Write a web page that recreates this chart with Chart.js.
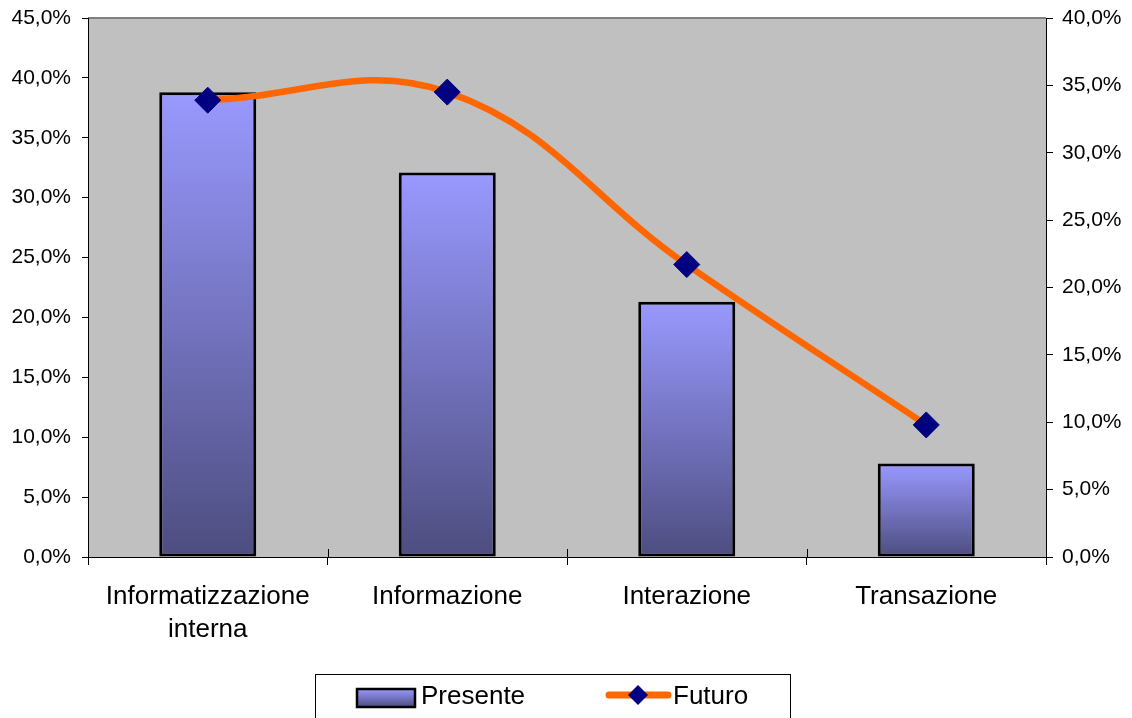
<!DOCTYPE html>
<html>
<head>
<meta charset="utf-8">
<script src="https://cdn.jsdelivr.net/npm/chart.js@4.4.0/dist/chart.umd.min.js"></script>
<style>
  html, body { margin: 0; padding: 0; background: #fff; }
  canvas { display: block; }
</style>
</head>
<body>
<canvas id="comboChart" width="1132" height="718"></canvas>
<script>
const categories = [['Informatizzazione', 'interna'], 'Informazione', 'Interazione', 'Transazione'];
const presente = [38.8, 32.1, 21.3, 7.8];
const futuro = [33.9, 34.5, 21.7, 9.8];

const FONT = "'Liberation Sans', Arial, sans-serif";
const BAR_TOP = '#9999ff';
const BAR_BOTTOM = '#4d4d80';
const LINE_COLOR = '#ff6600';
const MARKER_COLOR = '#000080';

const pct = v => v.toFixed(1).replace('.', ',') + '%';

function barGradient(c) {
  const y = c.chart.scales.y;
  if (!y || c.dataIndex === undefined) return BAR_TOP;
  const top = y.getPixelForValue(presente[c.dataIndex]);
  const bottom = y.getPixelForValue(0);
  if (!isFinite(top) || !isFinite(bottom) || top === bottom) return BAR_TOP;
  const g = c.chart.ctx.createLinearGradient(0, top, 0, bottom);
  g.addColorStop(0, BAR_TOP);
  g.addColorStop(1, BAR_BOTTOM);
  return g;
}

// fixed axis sizes so the plot area lands where the original one is
function fitY(width) {
  return s => {
    s.width = width;
    s.paddingTop = 0;
    s.paddingBottom = 0;
  };
}

// grey plot area with its top border, plus the inner half of the category ticks
const plotArea = {
  id: 'plotArea',
  beforeDraw(chart) {
    const { ctx, chartArea: a } = chart;
    ctx.save();
    ctx.fillStyle = '#c0c0c0';
    ctx.fillRect(a.left, a.top, a.right - a.left, a.bottom - a.top);
    ctx.strokeStyle = '#808080';
    ctx.lineWidth = 2;
    ctx.beginPath();
    ctx.moveTo(a.left, a.top);
    ctx.lineTo(a.right, a.top);
    ctx.stroke();
    ctx.restore();
  },
  afterDraw(chart) {
    const { ctx, chartArea: a } = chart;
    const x = chart.scales.x;
    ctx.save();
    ctx.strokeStyle = '#000';
    ctx.lineWidth = 1;
    for (let i = 1; i < categories.length; i++) {
      const px = Math.round((x.getPixelForTick(i - 1) + x.getPixelForTick(i)) / 2) + 0.5;
      ctx.beginPath();
      ctx.moveTo(px, a.bottom - 8);
      ctx.lineTo(px, a.bottom);
      ctx.stroke();
    }
    ctx.restore();
  }
};

// boxed legend at the bottom, like the spreadsheet one
const boxLegend = {
  id: 'boxLegend',
  afterDraw(chart) {
    const ctx = chart.ctx;
    ctx.save();
    ctx.strokeStyle = '#000';
    ctx.lineWidth = 1;
    ctx.strokeRect(315.5, 674.5, 475, 60);

    const g = ctx.createLinearGradient(0, 689, 0, 707);
    g.addColorStop(0, BAR_TOP);
    g.addColorStop(1, BAR_BOTTOM);
    ctx.fillStyle = g;
    ctx.fillRect(357, 689, 58, 18);
    ctx.lineWidth = 2.5;
    ctx.strokeRect(357, 689, 58, 18);

    ctx.strokeStyle = LINE_COLOR;
    ctx.lineWidth = 7;
    ctx.lineCap = 'round';
    ctx.beginPath();
    ctx.moveTo(609, 695);
    ctx.lineTo(668, 695);
    ctx.stroke();
    ctx.fillStyle = MARKER_COLOR;
    ctx.beginPath();
    ctx.moveTo(638, 685);
    ctx.lineTo(648, 695);
    ctx.lineTo(638, 705);
    ctx.lineTo(628, 695);
    ctx.closePath();
    ctx.fill();

    ctx.fillStyle = '#000';
    ctx.font = '26px ' + FONT;
    ctx.textBaseline = 'middle';
    ctx.fillText('Presente', 421, 697);
    ctx.fillText('Futuro', 673, 697);
    ctx.restore();
  }
};

new Chart('comboChart', {
  data: {
    labels: categories,
    datasets: [{
      type: 'line',
      label: 'Futuro',
      data: futuro,
      yAxisID: 'y2',
      order: 0,
      borderColor: LINE_COLOR,
      borderWidth: 6.5,
      tension: 0.4,
      pointStyle: 'rectRot',
      pointRadius: 13,
      pointBackgroundColor: MARKER_COLOR,
      pointBorderColor: MARKER_COLOR,
      pointBorderWidth: 1
    }, {
      type: 'bar',
      label: 'Presente',
      data: presente,
      yAxisID: 'y',
      order: 1,
      backgroundColor: barGradient,
      borderColor: '#000',
      borderWidth: 3,
      borderSkipped: false,
      categoryPercentage: 1,
      barPercentage: 0.405
    }]
  },
  options: {
    responsive: false,
    animation: false,
    devicePixelRatio: 1,
    layout: { padding: { top: 18, left: 0, right: 0, bottom: 0 } },
    plugins: {
      legend: { display: false },
      tooltip: { enabled: false }
    },
    scales: {
      x: {
        offset: true,
        afterFit: s => { s.height = 161; s.paddingLeft = 0; s.paddingRight = 0; },
        grid: { offset: true, drawOnChartArea: false, tickLength: 8, color: '#000' },
        border: { color: '#000', width: 1 },
        ticks: {
          color: '#000',
          font: { family: FONT, size: 26, lineHeight: 1.27 },
          padding: 15,
          maxRotation: 0,
          autoSkip: false
        }
      },
      y: {
        position: 'left',
        min: 0,
        max: 45,
        afterFit: fitY(88),
        grid: { drawOnChartArea: false, tickLength: 6, color: '#000' },
        border: { color: '#000', width: 1 },
        ticks: {
          stepSize: 5,
          color: '#000',
          padding: 11,
          font: { family: FONT, size: 21 },
          callback: v => pct(v)
        }
      },
      y2: {
        position: 'right',
        min: 0,
        max: 40,
        afterFit: fitY(86),
        grid: { drawOnChartArea: false, tickLength: 7, color: '#000' },
        border: { color: '#000', width: 1 },
        ticks: {
          stepSize: 5,
          color: '#000',
          padding: 9,
          font: { family: FONT, size: 21 },
          callback: v => pct(v)
        }
      }
    }
  },
  plugins: [plotArea, boxLegend]
});
</script>
</body>
</html>
